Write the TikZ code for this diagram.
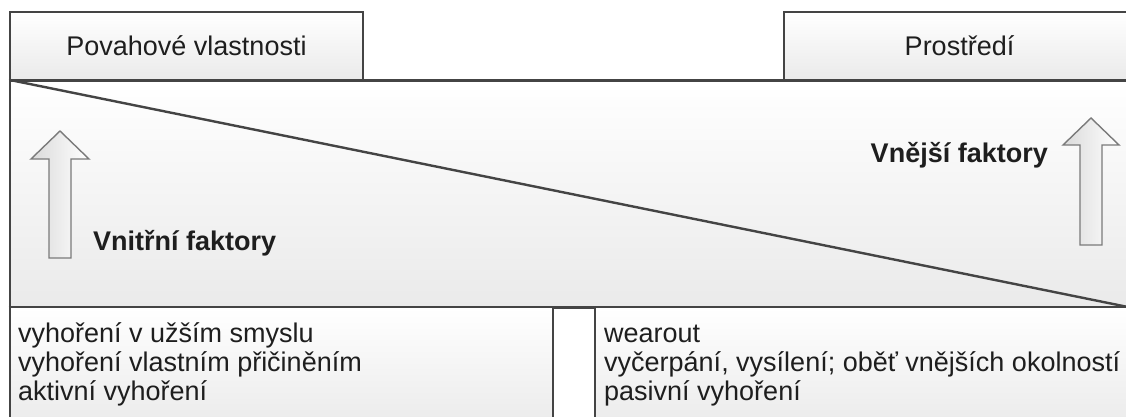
\documentclass[tikz,border=0pt]{standalone}
\usepackage{fontspec}
\setmainfont{Liberation Sans}
\begin{document}
\begin{tikzpicture}[x=1pt,y=-1pt,
  frame/.style={draw=edgegray,line width=2pt},
  panel/.style={top color=white,bottom color=panelgray},
  bigarrow/.style={draw=arrowgray,line width=1.4pt,left color=arrowshade,right color=white,line join=miter},
  label/.style={font=\fontsize{27}{29}\selectfont,text=txt,inner sep=0pt},
  boldlabel/.style={label,font=\fontsize{27}{29}\selectfont\bfseries},
]
\definecolor{edgegray}{HTML}{444444}
\definecolor{panelgray}{HTML}{EAEAEA}
\definecolor{arrowgray}{HTML}{7A7A7A}
\definecolor{arrowshade}{HTML}{DADADA}
\definecolor{txt}{HTML}{1E1E1E}

\useasboundingbox (0,0) rectangle (1126,416);
\clip (0,0) rectangle (1126,416);
\fill[white] (0,0) rectangle (1126,416);

% header boxes
\shade[panel] (10,12) rectangle (363,80);
\draw[frame] (10,80) |- (363,12) -- (363,80);
\shade[panel] (784,12) rectangle (1140,80);
\draw[frame] (784,80) |- (1140,12);
\node[label,anchor=base] (pv) at (186.5,55) {Povahové vlastnosti};
\node[label,anchor=base] (pr) at (959.5,55) {Prostředí};

% middle band with the diagonal split
\shade[panel] (10,80) rectangle (1140,307);
\draw[frame] (10,80) -- (10,307);
\draw[draw=edgegray,line width=3pt] (8.5,80) -- (1140,80);
\draw[draw=edgegray,line width=3pt] (8.5,307) -- (1140,307);
\coordinate (dA) at (10,80);
\coordinate (dB) at (1128,307);
\draw[draw=edgegray,line width=2.4pt] (dA) -- (dB);

% block arrows
\draw[bigarrow] (60,131) -- (89,159) -- (71,159) -- (71,258) -- (49,258) -- (49,159) -- (31,159) -- cycle;
\draw[bigarrow] (1091,118) -- (1119,145) -- (1102,145) -- (1102,245) -- (1080,245) -- (1080,145) -- (1063,145) -- cycle;
\node[boldlabel,anchor=base west] (vf) at (93,250) {Vnitřní faktory};
\node[boldlabel,anchor=base east] (ef) at (1048,162) {Vnější faktory};

% lower boxes
\shade[panel] (10,308) rectangle (553,430);
\draw[frame] (10,307) -- (10,430);
\draw[frame] (553,307) -- (553,430);
\shade[panel] (595,308) rectangle (1140,430);
\draw[frame] (595,307) -- (595,430);

\node[label,anchor=base west] (l1) at (18,342) {vyhoření v užším smyslu};
\node[label,anchor=base west] (l2) at (18,371) {vyhoření vlastním přičiněním};
\node[label,anchor=base west] (l3) at (18,400) {aktivní vyhoření};
\node[label,anchor=base west] (r1) at (604,342) {wearout};
\node[label,anchor=base west] (r2) at (604,371) {vyčerpání, vysílení; oběť vnějších okolností};
\node[label,anchor=base west] (r3) at (604,400) {pasivní vyhoření};
\end{tikzpicture}
\end{document}
